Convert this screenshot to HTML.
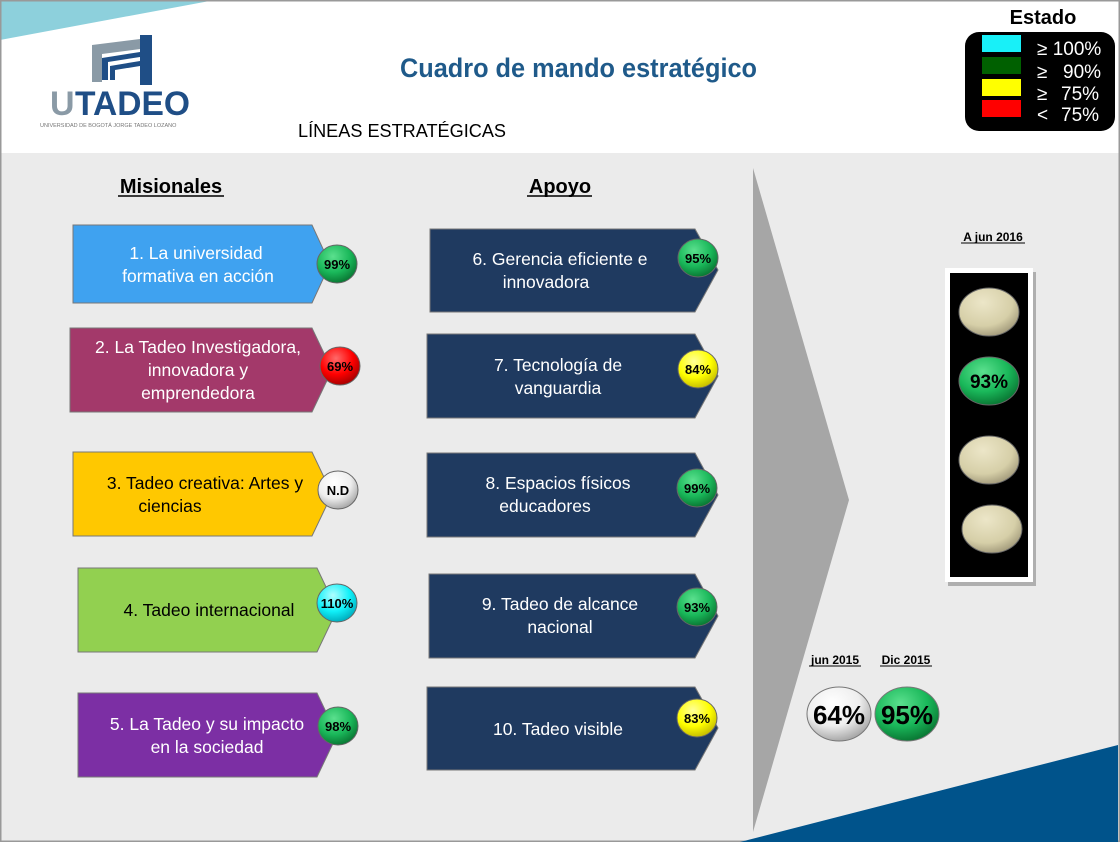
<!DOCTYPE html>
<html><head><meta charset="utf-8"><style>
body{margin:0;background:#fff}
svg{display:block}
text{font-family:"Liberation Sans",sans-serif}
</style></head><body>
<svg width="1120" height="842" viewBox="0 0 1120 842" xmlns="http://www.w3.org/2000/svg">
<defs>
<radialGradient id="gG" cx="40%" cy="30%" r="70%"><stop offset="0" stop-color="#5be08e"/><stop offset="0.6" stop-color="#1ab85a"/><stop offset="1" stop-color="#0a7a35"/></radialGradient>
<radialGradient id="gR" cx="40%" cy="30%" r="70%"><stop offset="0" stop-color="#ff6a6a"/><stop offset="0.6" stop-color="#f00"/><stop offset="1" stop-color="#a00"/></radialGradient>
<radialGradient id="gY" cx="40%" cy="30%" r="70%"><stop offset="0" stop-color="#ffff9a"/><stop offset="0.6" stop-color="#ffff00"/><stop offset="1" stop-color="#c8c000"/></radialGradient>
<radialGradient id="gC" cx="40%" cy="30%" r="70%"><stop offset="0" stop-color="#b0ffff"/><stop offset="0.6" stop-color="#10f0f8"/><stop offset="1" stop-color="#00b0c0"/></radialGradient>
<radialGradient id="gW" cx="40%" cy="30%" r="70%"><stop offset="0" stop-color="#fff"/><stop offset="0.6" stop-color="#eee"/><stop offset="1" stop-color="#aaa"/></radialGradient>
<radialGradient id="gB" cx="40%" cy="30%" r="70%"><stop offset="0" stop-color="#ece6c8"/><stop offset="0.7" stop-color="#d6cfa8"/><stop offset="1" stop-color="#a8a080"/></radialGradient>
</defs>
<rect x="0" y="0" width="1120" height="842" fill="#fff"/>
<rect x="0" y="153" width="1120" height="689" fill="#ebebeb"/>
<polygon points="0,0 215,0 0,40" fill="#8dd0dc"/>
<rect x="0.5" y="0.5" width="1119" height="841" fill="none" stroke="#999" stroke-width="2"/>
<!-- logo -->
<polygon points="92,45 148,38 148,48 102,54 102,82 92,82" fill="#8a9aa6"/>
<rect x="140" y="35" width="12" height="50" fill="#1f4e86"/>
<polygon points="102,58 140,52 140,57 108,62 108,80 102,80" fill="#1f4e86"/>
<polygon points="110,66 140,61 140,66 115,70 115,80 110,80" fill="#1f4e86"/>
<text x="50" y="115" font-weight="bold" font-size="34" fill="#8a9aa6">U</text>
<text x="75" y="115" font-weight="bold" font-size="34" fill="#1f4e86" textLength="115" lengthAdjust="spacingAndGlyphs">TADEO</text>
<text x="40" y="127" font-size="5.5" fill="#777">UNIVERSIDAD DE BOGOTÁ JORGE TADEO LOZANO</text>
<text x="400" y="77" font-weight="bold" font-size="27" fill="#1f5a8a" textLength="357" lengthAdjust="spacingAndGlyphs">Cuadro de mando estratégico</text>
<text x="298" y="137" font-size="18" fill="#000" textLength="208" lengthAdjust="spacingAndGlyphs">LÍNEAS ESTRATÉGICAS</text>
<!-- legend -->
<text x="1043" y="24" text-anchor="middle" font-weight="bold" font-size="20">Estado</text>
<rect x="965" y="32" width="150" height="99" rx="14" fill="#000"/>
<rect x="982" y="35" width="39" height="17" fill="#18f0f8"/>
<rect x="982" y="57" width="39" height="17" fill="#006000"/>
<rect x="982" y="79" width="39" height="17" fill="#ffff00"/>
<rect x="982" y="100" width="39" height="17" fill="#ff0000"/>
<g fill="#fff" font-size="19">
<text x="1037" y="55">≥ 100%</text>
<text x="1037" y="78">≥</text><text x="1063" y="78">90%</text>
<text x="1037" y="100">≥</text><text x="1061" y="100">75%</text>
<text x="1037" y="121">&lt;</text><text x="1061" y="121">75%</text>
</g>
<!-- headers -->
<text x="171" y="193" text-anchor="middle" font-weight="bold" font-size="20">Misionales</text>
<line x1="118" y1="196" x2="224" y2="196" stroke="#000" stroke-width="1.5"/>
<text x="560" y="193" text-anchor="middle" font-weight="bold" font-size="20">Apoyo</text>
<line x1="527" y1="196" x2="592" y2="196" stroke="#000" stroke-width="1.5"/>
<!-- gray arrow -->
<polygon points="753,168 849,500 753,832" fill="#a6a6a6"/>
<polygon points="740,842 1118,745 1118,842" fill="#00538b"/>
<!-- boxes -->
<g stroke="#777" stroke-width="1">
<polygon points="73,225 312,225 330,264 312,303 73,303" fill="#3fa2f0"/>
<polygon points="70,328 312,328 332,370 312,412 70,412" fill="#a3396a"/>
<polygon points="73,452 312,452 332,494 312,536 73,536" fill="#ffc800"/>
<polygon points="78,568 317,568 337,610 317,652 78,652" fill="#92d050"/>
<polygon points="78,693 317,693 337,735 317,777 78,777" fill="#7c2fa4"/>
<polygon points="430,229 695,229 718,270 695,312 430,312" fill="#1f3a60"/>
<polygon points="427,334 695,334 718,376 695,418 427,418" fill="#1f3a60"/>
<polygon points="427,453 695,453 718,495 695,537 427,537" fill="#1f3a60"/>
<polygon points="429,574 695,574 718,616 695,658 429,658" fill="#1f3a60"/>
<polygon points="427,687 695,687 718,728 695,770 427,770" fill="#1f3a60"/>
</g>
<g font-size="17.5" text-anchor="middle" fill="#fff">
<text x="196" y="259">1. La universidad</text><text x="198" y="282">formativa en acción</text>
<text x="198" y="353">2. La Tadeo Investigadora,</text><text x="198" y="376">innovadora y</text><text x="198" y="399">emprendedora</text>
<text x="205" y="489" fill="#000">3. Tadeo creativa: Artes y</text><text x="170" y="512" fill="#000">ciencias</text>
<text x="209" y="616" fill="#000">4. Tadeo internacional</text>
<text x="207" y="730">5. La Tadeo y su impacto</text><text x="207" y="753">en la sociedad</text>
<text x="560" y="265">6. Gerencia eficiente e</text><text x="546" y="288">innovadora</text>
<text x="558" y="371">7. Tecnología de</text><text x="558" y="394">vanguardia</text>
<text x="558" y="489">8. Espacios físicos</text><text x="545" y="512">educadores</text>
<text x="560" y="610">9. Tadeo de alcance</text><text x="560" y="633">nacional</text>
<text x="558" y="735">10. Tadeo visible</text>
</g>
<!-- badges -->
<g stroke="#666" stroke-width="1">
<ellipse cx="337" cy="264" rx="20" ry="19" fill="url(#gG)"/>
<ellipse cx="340" cy="366" rx="20" ry="19" fill="url(#gR)"/>
<ellipse cx="338" cy="490" rx="20" ry="19" fill="url(#gW)"/>
<ellipse cx="337" cy="603" rx="20" ry="19" fill="url(#gC)"/>
<ellipse cx="338" cy="726" rx="20" ry="19" fill="url(#gG)"/>
<ellipse cx="698" cy="258" rx="20" ry="19" fill="url(#gG)"/>
<ellipse cx="698" cy="369" rx="20" ry="19" fill="url(#gY)"/>
<ellipse cx="697" cy="488" rx="20" ry="19" fill="url(#gG)"/>
<ellipse cx="697" cy="607" rx="20" ry="19" fill="url(#gG)"/>
<ellipse cx="697" cy="718" rx="20" ry="19" fill="url(#gY)"/>
</g>
<g font-weight="bold" font-size="13" text-anchor="middle">
<text x="337" y="269">99%</text><text x="340" y="371">69%</text><text x="338" y="495">N.D</text>
<text x="337" y="608">110%</text><text x="338" y="731">98%</text>
<text x="698" y="263">95%</text><text x="698" y="374">84%</text><text x="697" y="493">99%</text>
<text x="697" y="612">93%</text><text x="697" y="723">83%</text>
</g>
<!-- traffic light -->
<text x="993" y="241" text-anchor="middle" font-weight="bold" font-size="12">A jun 2016</text>
<line x1="961" y1="243" x2="1025" y2="243" stroke="#000"/>
<rect x="948" y="272" width="88" height="314" fill="#555" opacity="0.4"/>
<rect x="945" y="268" width="88" height="314" fill="#fff"/>
<rect x="950" y="273" width="78" height="304" fill="#000"/>
<g stroke="#666"><ellipse cx="989" cy="312" rx="30" ry="24" fill="url(#gB)"/>
<ellipse cx="989" cy="381" rx="30" ry="24" fill="url(#gG)"/>
<ellipse cx="989" cy="460" rx="30" ry="24" fill="url(#gB)"/>
<ellipse cx="992" cy="529" rx="30" ry="24" fill="url(#gB)"/></g>
<text x="989" y="388" text-anchor="middle" font-weight="bold" font-size="19">93%</text>
<!-- history -->
<g font-weight="bold" font-size="12" text-anchor="middle">
<text x="835" y="664">jun 2015</text><text x="906" y="664">Dic 2015</text></g>
<line x1="809" y1="666" x2="861" y2="666" stroke="#000"/><line x1="880" y1="666" x2="932" y2="666" stroke="#000"/>
<g stroke="#777"><ellipse cx="839" cy="714" rx="32" ry="27" fill="url(#gW)"/>
<ellipse cx="907" cy="714" rx="32" ry="27" fill="url(#gG)"/></g>
<g font-weight="bold" font-size="26" text-anchor="middle">
<text x="839" y="724">64%</text><text x="907" y="724">95%</text></g>
</svg>
</body></html>
